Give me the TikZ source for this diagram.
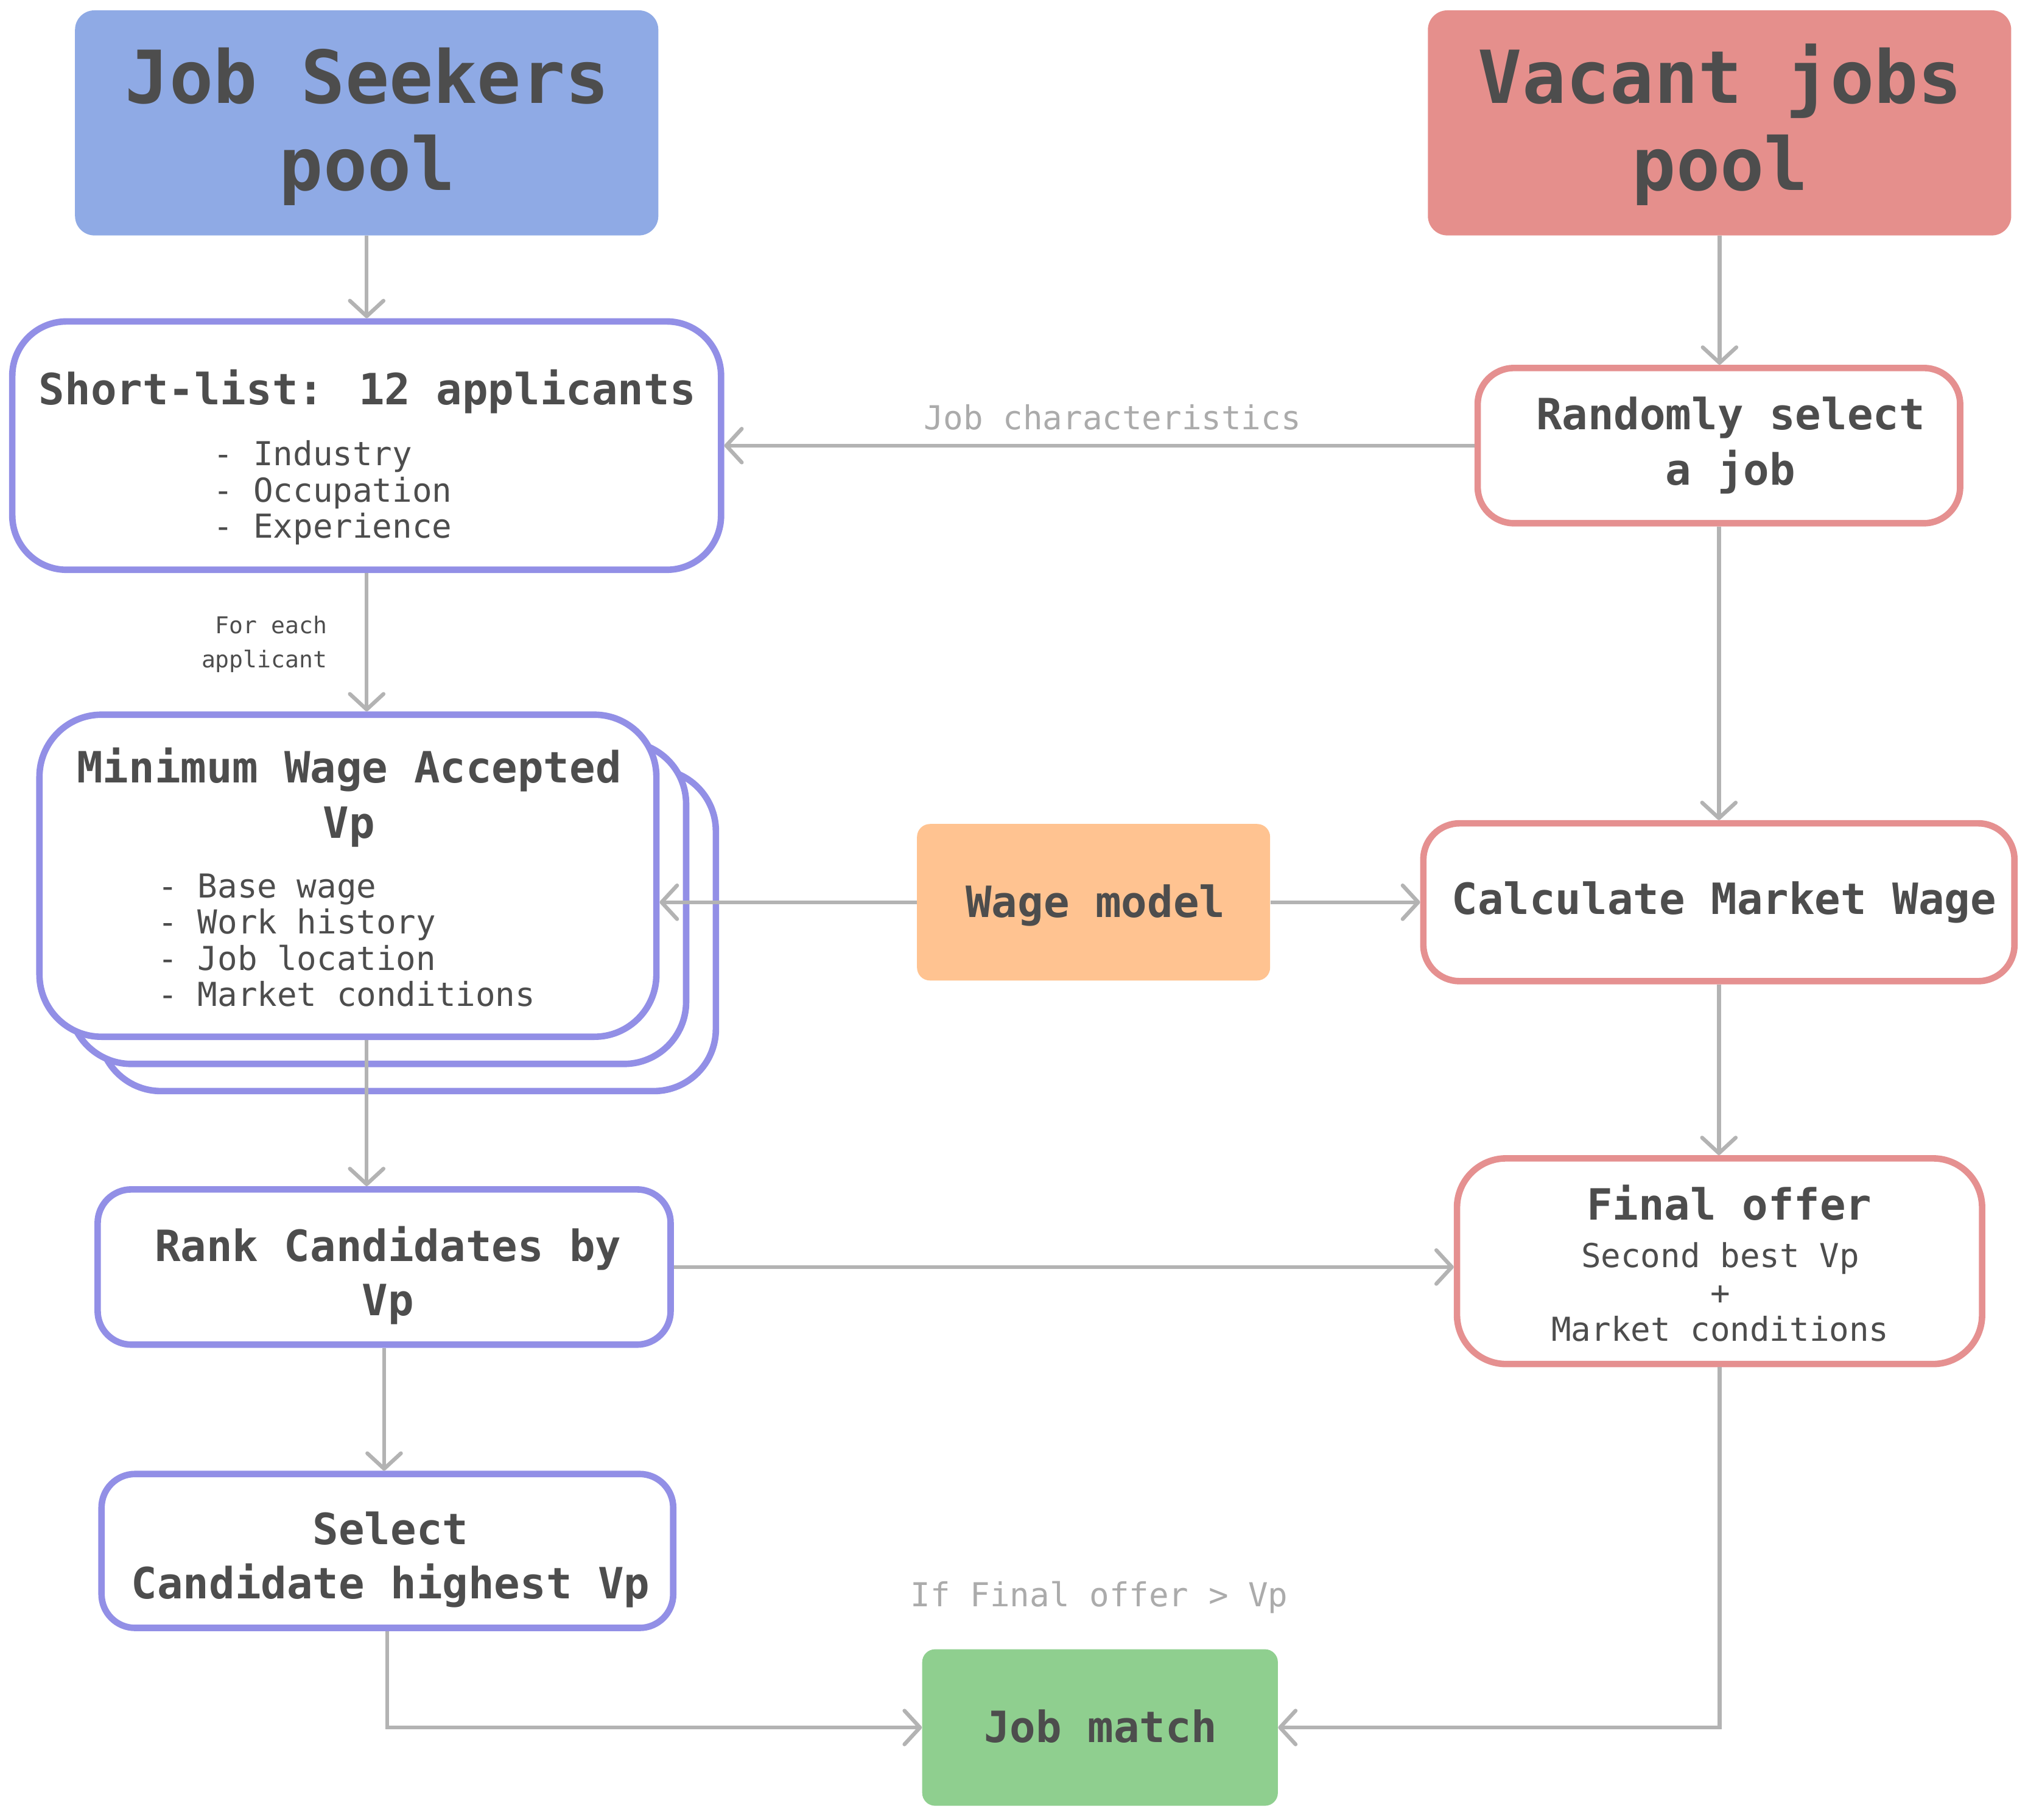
\documentclass[tikz,border=0pt]{standalone}
\usepackage{fontspec}
\setmainfont{DejaVu Sans Mono}
\usetikzlibrary{arrows.meta}
\definecolor{bluefill}{HTML}{8FAAE5}
\definecolor{redfill}{HTML}{E58F8C}
\definecolor{purpleline}{HTML}{928FE6}
\definecolor{redline}{HTML}{E59090}
\definecolor{orangefill}{HTML}{FFC391}
\definecolor{greenfill}{HTML}{8FCF8F}
\definecolor{arrowgray}{HTML}{B3B3B3}
\definecolor{txtdark}{HTML}{4D4D4D}
\definecolor{lblgray}{HTML}{ABABAB}
\newcommand\fTitle{\fontsize{56.5}{67}\selectfont\bfseries}
\newcommand\fBold{\fontsize{33.3}{43}\selectfont\bfseries}
\newcommand\fBoldR{\fontsize{33.3}{42}\selectfont\bfseries}
\newcommand\fBody{\fontsize{25.5}{28}\selectfont}
\newcommand\fBodyF{\fontsize{25.5}{28.5}\selectfont}
\newcommand\fSmall{\fontsize{17.9}{26}\selectfont}
\newcommand\mlines[2]{\begin{tabular}[t]{@{}#1@{}}#2\end{tabular}}
\tikzset{
  poolbox/.style={rectangle, rounded corners=15pt, inner sep=0pt, draw=none},
  flatbox/.style={rectangle, rounded corners=10pt, inner sep=0pt, draw=none},
  wbox/.style={rectangle, fill=white, line width=5pt, inner sep=0pt},
  pbox/.style={wbox, draw=purpleline},
  rbox/.style={wbox, draw=redline},
  conn/.style={draw=arrowgray, line width=3pt, -{Straight Barb[length=12pt,width=26pt,round]}},
  tx/.style={inner sep=0pt, anchor=base, text=txtdark},
  lbl/.style={inner sep=0pt, anchor=base, text=lblgray, font=\fBody},
}
\begin{document}
\begin{tikzpicture}[x=1pt,y=-1pt]
\useasboundingbox (0,0) rectangle (1568,1407);
% pools
\node[poolbox, fill=bluefill, minimum width=451pt, minimum height=174pt] (js) at (283.5,95) {};
\node[poolbox, fill=redfill, minimum width=451pt, minimum height=174pt] (vj) at (1329.5,95) {};
% left column
\node[pbox, rounded corners=42pt, minimum width=548pt, minimum height=192pt] (sl) at (283.5,344.5) {};
\node[pbox, rounded corners=48pt, minimum width=477pt, minimum height=249pt] (mw3) at (315,719) {};
\node[pbox, rounded corners=48pt, minimum width=477pt, minimum height=249pt] (mw2) at (292,698) {};
\node[pbox, rounded corners=48pt, minimum width=477pt, minimum height=249pt] (mw) at (269,677) {};
\node[pbox, rounded corners=26pt, minimum width=443pt, minimum height=120pt] (rk) at (297,979.5) {};
\node[pbox, rounded corners=26pt, minimum width=442pt, minimum height=119pt] (sc) at (299.5,1199) {};
% right column
\node[rbox, rounded corners=28pt, minimum width=373pt, minimum height=120pt] (rs) at (1329,344.5) {};
\node[rbox, rounded corners=28pt, minimum width=457pt, minimum height=122pt] (cm) at (1329,697.5) {};
\node[rbox, rounded corners=38pt, minimum width=406pt, minimum height=159pt] (fo) at (1329.5,975) {};
% middle
\node[flatbox, fill=orangefill, minimum width=273pt, minimum height=121pt] (wm) at (845.5,697.5) {};
\node[flatbox, fill=greenfill, minimum width=275pt, minimum height=121pt] (jm) at (850.5,1335.5) {};
% connectors
\draw[conn] (js.south) -- (sl.north);
\draw[conn] (vj.south) -- (vj.south |- rs.north);
\draw[conn] (rs.west) -- (sl.east);
\draw[conn] (sl.south) -- (sl.south |- mw.north);
\draw[conn] (rs.south) -- (cm.north);
\draw[conn] (wm.west) -- (wm.west -| mw.east);
\draw[conn] (wm.east) -- (cm.west);
\draw[conn] (cm.south) -- (cm.south |- fo.north);
\draw[conn] (sl.south |- mw.south) -- (sl.south |- rk.north);
\draw[conn] (rk.east) -- (rk.east -| fo.west);
\draw[conn] (rk.south) -- (rk.south |- sc.north);
\draw[conn] (sc.south) |- (jm.west);
\draw[conn] (fo.south) |- (jm.east);
% texts
\node[tx, font=\fTitle] (js-t) at (284,80) {\mlines{c}{Job Seekers\\pool}};
\node[tx, font=\fTitle] (vj-t) at (1330,80) {\mlines{c}{Vacant jobs\\pool}};
\node[tx, font=\fBold] (sl-t) at (284,313) {Short-list: 12 applicants};
\node[tx, anchor=base west, font=\fBody] (sl-l) at (165,360) {\mlines{l}{- Industry\\- Occupation\\- Experience}};
\node[lbl] (jc) at (860,332) {Job characteristics};
\node[tx, font=\fBold] (rs-t) at (1338,332) {\mlines{c}{Randomly select\\a job}};
\node[tx, anchor=base east, font=\fSmall] (fe) at (253,490) {\mlines{r}{For each\\applicant}};
\node[tx, font=\fBold] (mw-t) at (270,605) {\mlines{c}{Minimum Wage Accepted\\Vp}};
\node[tx, anchor=base west, font=\fBody] (mw-l) at (122,694) {\mlines{l}{- Base wage\\- Work history\\- Job location\\- Market conditions}};
\node[tx, font=\fBold] (wm-t) at (847,709) {Wage model};
\node[tx, font=\fBold] (cm-t) at (1333,707) {Calculate Market Wage};
\node[tx, font=\fBold] (fo-t) at (1337,943) {Final offer};
\node[tx, font=\fBodyF] (fo-l) at (1330,980) {\mlines{c}{Second best Vp\\+\\Market conditions}};
\node[tx, font=\fBoldR] (rk-t) at (300,975) {\mlines{c}{Rank Candidates by\\Vp}};
\node[tx, font=\fBoldR] (sc-t) at (302,1194) {\mlines{c}{Select\\Candidate highest Vp}};
\node[lbl] (iff) at (850,1242) {If Final offer > Vp};
\node[tx, font=\fBold] (jm-t) at (851,1347) {Job match};
\end{tikzpicture}
\end{document}
